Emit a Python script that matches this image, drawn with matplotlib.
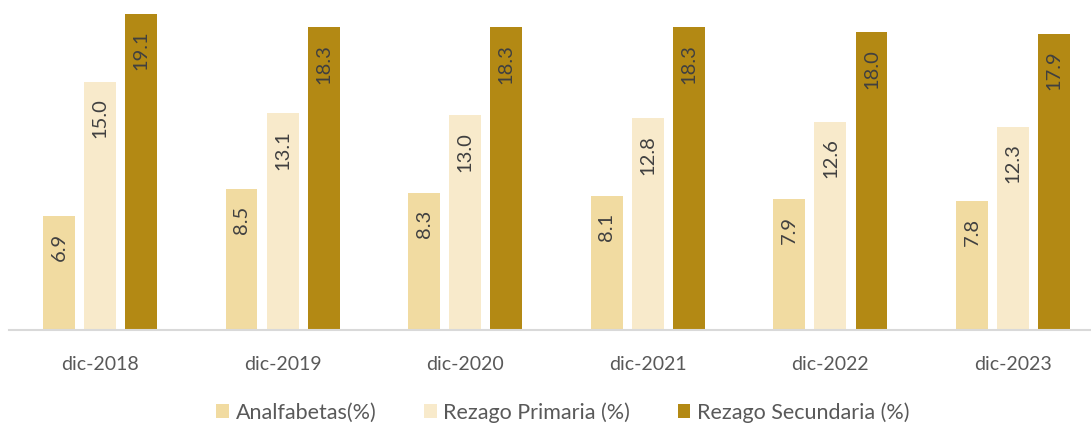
import numpy as np
import matplotlib.pyplot as plt
from matplotlib.patches import Patch

periodos = ['dic-2018', 'dic-2019', 'dic-2020', 'dic-2021', 'dic-2022', 'dic-2023']
analfabetas = [6.9, 8.5, 8.3, 8.1, 7.9, 7.8]
rezago_primaria = [15.0, 13.1, 13.0, 12.8, 12.6, 12.3]
rezago_secundaria = [19.1, 18.3, 18.3, 18.3, 18.0, 17.9]

series = ['Analfabetas(%)', 'Rezago Primaria (%)', 'Rezago Secundaria (%)']
colores = ['#F1DBA1', '#F8EACB', '#B38914']

plt.rcParams['font.family'] = ['Lato', 'DejaVu Sans']

fig = plt.figure(figsize=(10.91, 4.27), dpi=100)
ax = fig.add_axes([8.7 / 1091, 96 / 427, 1095.6 / 1091, 1 - 96 / 427])

x = np.arange(len(periodos))
ancho = 0.175
paso = 0.225
datos = [analfabetas, rezago_primaria, rezago_secundaria]

for k, (vals, col) in enumerate(zip(datos, colores)):
    pos = x + (k - 1) * paso
    barras = ax.bar(pos, vals, width=ancho, color=col, label=series[k])
    for b, v in zip(barras, vals):
        ax.text(b.get_x() + b.get_width() / 2, v - 0.95, f'{v:.1f}',
                rotation=90, ha='center', va='top', fontsize=14.5, color='#404040')

ax.set_xlim(-0.5, len(periodos) - 0.5)
ax.set_ylim(0, 20.01)
ax.set_yticks([])
ax.set_xticks(x)
ax.set_xticklabels(periodos, fontsize=14, color='#595959')
ax.tick_params(axis='x', length=0, pad=18)
for lado in ['top', 'right', 'left']:
    ax.spines[lado].set_visible(False)
ax.spines['bottom'].set_color('#D9D9D9')
ax.spines['bottom'].set_linewidth(1.5)

handles = [Patch(facecolor=c, label=s) for c, s in zip(colores, series)]
fig.legend(handles=handles, loc='center', bbox_to_anchor=(0.516, 1 - 413 / 427),
           ncol=3, frameon=False, fontsize=15.5, labelcolor='#595959',
           handlelength=0.6, handleheight=0.6, handletextpad=0.3, columnspacing=2.2)

fig.savefig('out.png', dpi=100)
